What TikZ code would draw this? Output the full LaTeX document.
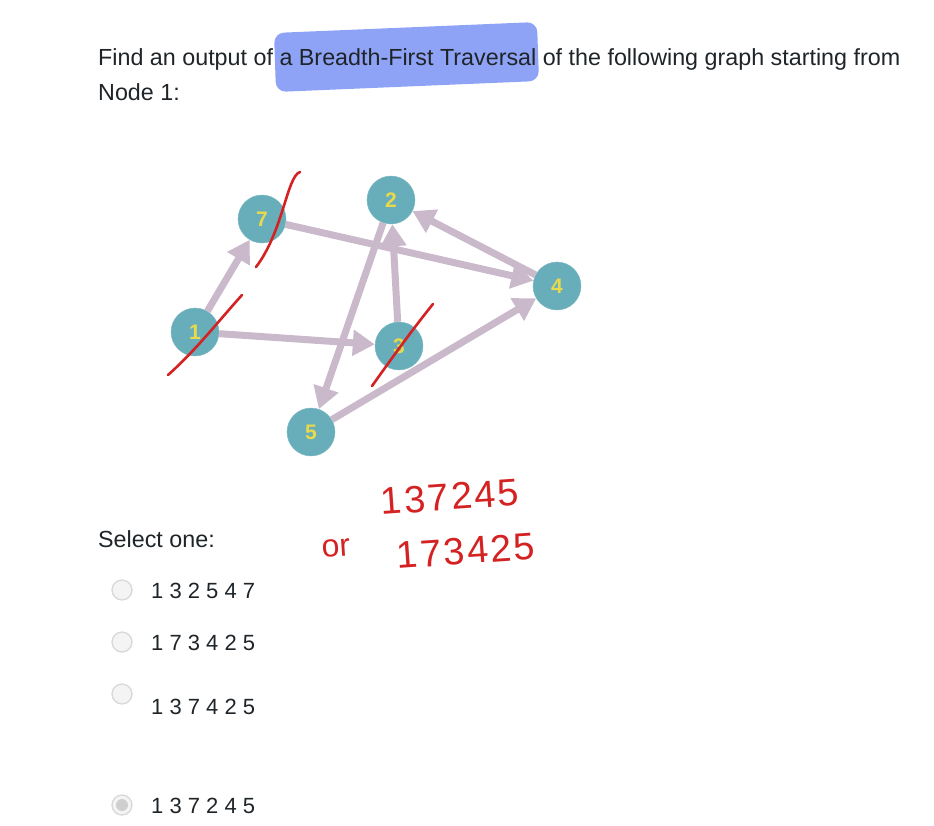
\documentclass[tikz,border=0pt]{standalone}
\usepackage{fontspec}
\setmainfont{Liberation Sans}
\usetikzlibrary{arrows.meta}

\definecolor{nodeteal}{HTML}{68AEBA}
\definecolor{labelyellow}{HTML}{E8DA4C}
\definecolor{edgemauve}{HTML}{C9B9CB}
\definecolor{penred}{HTML}{D42222}
\definecolor{hilite}{HTML}{8FA3F6}
\definecolor{textdark}{HTML}{1E2428}
\definecolor{radioedge}{HTML}{D8D8D8}
\definecolor{radiofill}{HTML}{F4F4F4}
\definecolor{radiodot}{HTML}{CFCFCF}

\begin{document}
\begin{tikzpicture}[
    x=1pt, y=-1pt,
    vertex/.style={circle, fill=nodeteal, draw=nodeteal!85!white, minimum size=48pt, inner sep=0pt, text=labelyellow, font=\fontsize{21}{21}\selectfont\bfseries},
    edge/.style={draw=edgemauve, line width=7pt, -{Triangle[length=22pt,width=25pt]}},
    prose/.style={anchor=base west, inner sep=0pt, text=textdark, font=\fontsize{23.3}{23.3}\selectfont},
    option/.style={anchor=base west, inner sep=0pt, text=textdark, font=\fontsize{22}{22}\selectfont},
    radio/.style={circle, draw=radioedge, fill=radiofill, line width=1.3pt, minimum size=20pt, inner sep=0pt},
    pen/.style={draw=penred, line width=2.6pt, line cap=round},
    scribble/.style={text=penred, inner sep=0pt, rotate=4, font=\fontsize{38}{38}\selectfont\addfontfeature{LetterSpace=6}}
]
    \useasboundingbox (0,0) rectangle (934,825);

    % highlighter stroke behind the question
    \fill [hilite, rounded corners=10pt] (274,33) -- (537,22) -- (539,81) -- (276,92) -- cycle;

    \node [prose] (question) at (98,65) {Find an output of a Breadth-First Traversal of the following graph starting from};
    \node [prose] (question2) at (98,100) {Node 1:};

    % graph
    \node [vertex] (n7) at (262,219) {7};
    \node [vertex] (n2) at (391,200) {2};
    \node [vertex] (n4) at (557,286) {4};
    \node [vertex] (n1) at (195,332) {1};
    \node [vertex] (n3) at (399,346) {3};
    \node [vertex] (n5) at (311,432) {5};

    \draw [edge] (n1) -- (n7);
    \draw [edge] (n1) -- (n3);
    \draw [edge] (n7) -- (n4);
    \draw [edge] (n4) -- (n2);
    \draw [edge] (n3) -- (n2);
    \draw [edge] (n2) -- (n5);
    \draw [edge] (n5) -- (n4);

    % pen marks
    \draw [pen] (300,172) .. controls (287,176) and (283,232) .. (256,267);
    \draw [pen] (242,295) .. controls (216,324) and (196,350) .. (168,375);
    \draw [pen] (433,304) .. controls (412,330) and (392,358) .. (372,386);

    \node [scribble] (answer1) at (450,497) {137245};
    \node [scribble, font=\fontsize{32}{32}\selectfont] (answeror) at (336,548) {or};
    \node [scribble] (answer2) at (466,551) {173425};

    % choices
    \node [prose] (select) at (98,547) {Select one:};

    \node [radio] (r1) at (122,590) {};
    \node [radio] (r2) at (122,642) {};
    \node [radio] (r3) at (122,694) {};
    \node [radio] (r4) at (122,805) {};
    \fill [radiodot] (r4.center) circle (6pt);

    \node [option] (o1) at (151,598) {1 3 2 5 4 7};
    \node [option] (o2) at (151,650) {1 7 3 4 2 5};
    \node [option] (o3) at (151,714) {1 3 7 4 2 5};
    \node [option] (o4) at (151,813) {1 3 7 2 4 5};
\end{tikzpicture}
\end{document}
